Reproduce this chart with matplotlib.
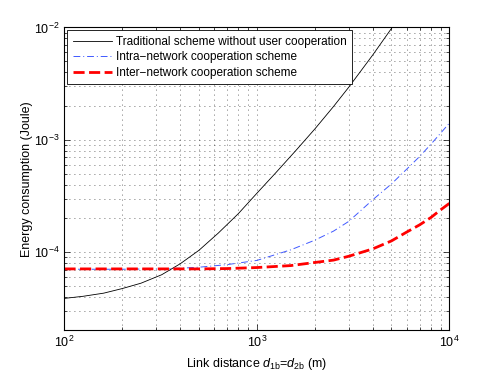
import matplotlib
matplotlib.use("Agg")
import matplotlib.pyplot as plt
from matplotlib.ticker import LogLocator, NullFormatter

plt.rcParams['font.family'] = ['Liberation Sans', 'DejaVu Sans']
plt.rcParams['mathtext.fontset'] = 'custom'
plt.rcParams['mathtext.rm'] = 'Liberation Sans'
plt.rcParams['mathtext.it'] = 'Liberation Sans:italic'

# link distance (m)
dist_trad = [100, 125, 160, 200, 250, 320, 400, 500, 630, 800, 1000, 1250,
             1600, 2000, 2500, 3000, 4000, 5000, 5200]
dist = [100, 150, 200, 300, 400, 500, 700, 1000, 1500, 2000, 2500, 3000,
        4000, 5000, 6000, 7000, 8000, 9000, 10000]

# energy consumption (Joule)
traditional = [3.88e-5, 4.05e-5, 4.32e-5, 4.75e-5, 5.3e-5, 6.3e-5, 7.9e-5, 1.04e-4,
               1.48e-4, 2.2e-4, 3.35e-4, 5.07e-4, 8.1e-4, 1.25e-3, 1.98e-3, 2.94e-3,
               5.7e-3, 9.8e-3, 1.08e-2]
intra = [7.05e-5, 7.05e-5, 7.05e-5, 7.1e-5, 7.2e-5, 7.35e-5, 7.75e-5, 8.45e-5,
         1.05e-4, 1.28e-4, 1.54e-4, 1.88e-4, 2.93e-4, 4.05e-4, 5.48e-4, 7.1e-4,
         9.1e-4, 1.145e-3, 1.41e-3]
inter = [7.1e-5, 7.1e-5, 7.1e-5, 7.1e-5, 7.1e-5, 7.1e-5, 7.15e-5, 7.3e-5,
         7.6e-5, 8.1e-5, 8.5e-5, 9.2e-5, 1.07e-4, 1.26e-4, 1.51e-4, 1.75e-4,
         2.03e-4, 2.38e-4, 2.72e-4]

labels = ["Traditional scheme without user cooperation",
          "Intra\u2212network cooperation scheme",
          "Inter\u2212network cooperation scheme"]

fig = plt.figure(figsize=(4.96, 3.73), dpi=100)
ax = fig.add_axes([0.130, 0.1153, 0.776, 0.811])

ax.loglog(dist_trad, traditional, color='black', linewidth=0.6, label=labels[0])
ax.loglog(dist, intra, color=(0.25, 0.35, 1.0), linestyle=(0, (7, 3, 1, 3)),
          linewidth=0.7, label=labels[1])
ax.loglog(dist, inter, color='red', linestyle=(0, (4, 1.6)), linewidth=2.0, label=labels[2])

ax.set_xlim(100, 10000)
ax.set_ylim(2.03e-5, 1e-2)

ax.xaxis.set_major_locator(LogLocator(base=10, numticks=10))
ax.yaxis.set_major_locator(LogLocator(base=10, numticks=10))
ax.xaxis.set_minor_locator(LogLocator(base=10, subs=range(2, 10), numticks=10))
ax.yaxis.set_minor_locator(LogLocator(base=10, subs=range(2, 10), numticks=10))
ax.xaxis.set_minor_formatter(NullFormatter())
ax.yaxis.set_minor_formatter(NullFormatter())

ax.grid(True, which='both', linestyle=(0, (1, 5)), color='black', linewidth=0.6, alpha=0.75)
ax.tick_params(which='both', direction='in', top=True, right=True, labelsize=9, width=0.5)
ax.tick_params(which='major', length=4)
ax.tick_params(which='minor', length=2)
for s in ax.spines.values():
    s.set_linewidth(0.8)

ax.set_xlabel(r"Link distance $d_{\mathrm{1b}}$=$d_{\mathrm{2b}}$ (m)", fontsize=9)
ax.set_ylabel("Energy consumption (Joule)", fontsize=9, labelpad=1)

leg = ax.legend(loc='upper left', fontsize=8.5, handlelength=3.3, fancybox=False,
                framealpha=1, edgecolor='black', borderaxespad=0.25,
                labelspacing=0.3, borderpad=0.45, handletextpad=0.4)
leg.get_frame().set_linewidth(0.6)

fig.savefig("out.png", dpi=100)
